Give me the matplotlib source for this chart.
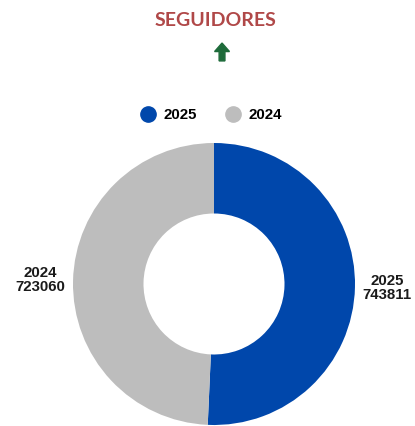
import matplotlib.pyplot as plt
from matplotlib.lines import Line2D
from matplotlib.patches import FancyArrow

years = ['2025', '2024']
followers = [743811, 723060]
colors = ['#0047AB', '#BDBDBD']
title = 'SEGUIDORES'

fig = plt.figure(figsize=(4.15, 4.26), dpi=100)
ax = fig.add_axes([73 / 415, 1 / 426, 282 / 415, 282 / 426])

labels = [f'{y}\n{v}' for y, v in zip(years, followers)]
wedges, texts = ax.pie(followers, labels=labels, colors=colors, startangle=90, counterclock=False,
                       labeldistance=1.23, wedgeprops=dict(width=0.5, linewidth=0),
                       textprops=dict(fontsize=10.8, fontweight='bold', color='#1a1a1a',
                                      family='Liberation Sans', linespacing=1.05))
for t in texts:
    t.set_ha('center')
    t.set_va('center')
ax.set_xlim(-1, 1)
ax.set_ylim(-1, 1)
ax.set_aspect('equal')

fig.text(0.52, 0.951, title, ha='center', va='center', fontsize=14, fontweight='bold',
         color='#B04848', family='Lato')

fig.patches.append(FancyArrow(0.535, 0.857, 0, 0.022, width=0.014, head_width=0.036, head_length=0.02,
                              length_includes_head=False, color='#1E6B3A', transform=fig.transFigure))

handles = [Line2D([], [], marker='o', linestyle='', markersize=11, markerfacecolor=c, markeredgecolor=c)
           for c in colors]
fig.legend(handles, years, loc='center', bbox_to_anchor=(0.507, 0.729), ncol=2, frameon=False,
           prop=dict(size=10.8, weight='bold', family='Liberation Sans'), handletextpad=0.45,
           columnspacing=1.8, handlelength=1.2)

fig.savefig('out.png', dpi=100)
